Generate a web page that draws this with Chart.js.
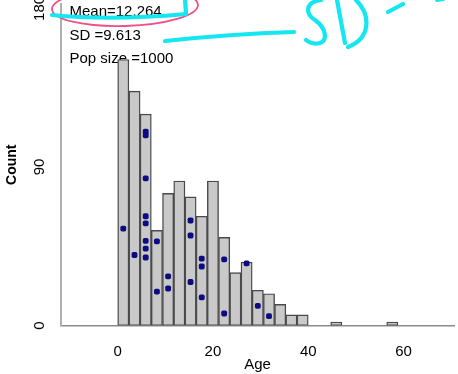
<!DOCTYPE html>
<html><head><meta charset="utf-8">
<script src="https://cdn.jsdelivr.net/npm/chart.js@4"></script>
<style>html,body{margin:0;padding:0;background:#fff}#wrap{width:458px;height:374px}</style>
</head><body><div id="wrap"><canvas id="c" width="458" height="374"></canvas></div>
<script>
// ---- data ----
const binStart = 0;
const binWidth = 40 / 17;
const counts = [151,133,120,54,75,82,73,62,82,50,30,36,20,18,12,6,6,0,0,2,0,0,0,0,2];
const dotBins = [0,1,2,2,2,2,2,2,2,2,3,3,4,4,6,6,6,7,7,7,9,9,11,12,13];
const dotCounts = [55,40,110,108,83.5,62,58,48,43.6,38.6,47.8,19.2,27.9,21,59.6,51.1,24.7,38,33.5,16,37.5,6.8,35.3,11.1,5.3];
const xTicks = [0,20,40,60];
const yTicks = [0,90,180];
const statLines = ['Mean=12.264','SD =9.613','Pop size =1000'];
const xTitle = 'Age';
const yTitle = 'Count';

const FAM = "'Liberation Sans', Arial, sans-serif";
const barData = counts.map((c,i)=>({x: binStart + (i+0.5)*binWidth, y: c}));
const dotData = dotBins.map((b,i)=>({x: binStart + (b+0.5)*binWidth, y: dotCounts[i]}));

const textPlugin = {
  id:'stats',
  beforeDatasetsDraw(chart){
    const ctx = chart.ctx;
    ctx.save();
    ctx.font = '15px ' + FAM;
    ctx.fillStyle = '#000';
    ctx.textBaseline = 'middle';
    ctx.textAlign = 'left';
    const ys = [12, 35.7, 59];
    statLines.forEach((t,i)=>ctx.fillText(t, 69.5, ys[i]));
    ctx.restore();
  },
  afterDraw(chart){
    const ctx = chart.ctx;
    const ys = chart.scales.y;
    ctx.save();
    ctx.fillStyle = '#000';
    ctx.font = '15px ' + FAM;
    ctx.textAlign = 'center';
    ctx.textBaseline = 'middle';
    ys.ticks.forEach(t=>{
      const py = ys.getPixelForValue(t.value);
      ctx.save(); ctx.translate(40, py); ctx.rotate(-Math.PI/2);
      ctx.fillText(String(t.value), 0, 0); ctx.restore();
    });
    ctx.font = 'bold 14px ' + FAM;
    ctx.save(); ctx.translate(12, (chart.chartArea.top + chart.chartArea.bottom)/2); ctx.rotate(-Math.PI/2);
    ctx.fillText(yTitle, 0, 0); ctx.restore();

    // hand-drawn annotations
    ctx.lineCap = 'round'; ctx.lineJoin = 'round';
    ctx.strokeStyle = '#f0508a'; ctx.lineWidth = 1.8;
    ctx.beginPath(); ctx.ellipse(125, 7, 73, 19, -0.03, 0, Math.PI*2); ctx.stroke();
    ctx.strokeStyle = '#14e6f2'; ctx.lineWidth = 4.2;
    ctx.beginPath(); ctx.moveTo(52,15); ctx.quadraticCurveTo(110,21,186,14); ctx.lineTo(185,-2); ctx.stroke();
    ctx.beginPath(); ctx.moveTo(165,41); ctx.quadraticCurveTo(230,34,294,32); ctx.stroke();
    ctx.beginPath(); ctx.moveTo(321,0); ctx.bezierCurveTo(305,2,305,14,315,20);
    ctx.bezierCurveTo(326,28,328,40,320,43); ctx.quadraticCurveTo(312,45,306,40); ctx.stroke();
    ctx.beginPath(); ctx.moveTo(337,0); ctx.lineTo(345,43); ctx.stroke();
    ctx.beginPath(); ctx.moveTo(356,0); ctx.bezierCurveTo(371,15,371,38,348,47); ctx.stroke();
    ctx.beginPath(); ctx.moveTo(388,12); ctx.lineTo(403,4); ctx.stroke();
    ctx.beginPath(); ctx.moveTo(437,0); ctx.lineTo(443,-1); ctx.stroke();
    ctx.restore();
  }
};

new Chart(document.getElementById('c'), {
  type:'bar',
  data:{datasets:[
    {type:'scatter', data:dotData, backgroundColor:'#0c0c80', borderColor:'#0c0c80', pointStyle:'rectRounded', pointRadius:3.4, borderWidth:0, order:0},
    {type:'bar', data:barData, backgroundColor:'#c9c9c9', borderColor:'#4a4a4a', borderWidth:1.4, borderSkipped:false, barPercentage:1, categoryPercentage:1, order:1}
  ]},
  options:{
    responsive:false, animation:false, events:[],
    layout:{padding:0},
    plugins:{legend:{display:false}, tooltip:{enabled:false}},
    scales:{
      x:{type:'linear', min:-11.9, max:70.6, offset:false,
        grid:{display:false, offset:false}, border:{color:'#8c8c8c', width:1.5},
        afterBuildTicks:s=>{s.ticks = xTicks.map(v=>({value:v}));},
        afterFit:s=>{s.height = 48.5;},
        ticks:{font:{family:FAM, size:15}, color:'#000', padding:9, maxRotation:0, autoSkip:false},
        title:{display:true, text:xTitle, font:{family:FAM, size:15}, color:'#000', padding:{top:0,bottom:0}}
      },
      y:{type:'linear', min:0, max:182.5,
        grid:{display:false}, border:{color:'#b0b0b0', width:2},
        ticks:{display:false},
        afterBuildTicks:s=>{s.ticks = yTicks.map(v=>({value:v}));},
        afterFit:s=>{s.width = 61;}
      }
    }
  },
  plugins:[textPlugin]
});
</script>
</body></html>
